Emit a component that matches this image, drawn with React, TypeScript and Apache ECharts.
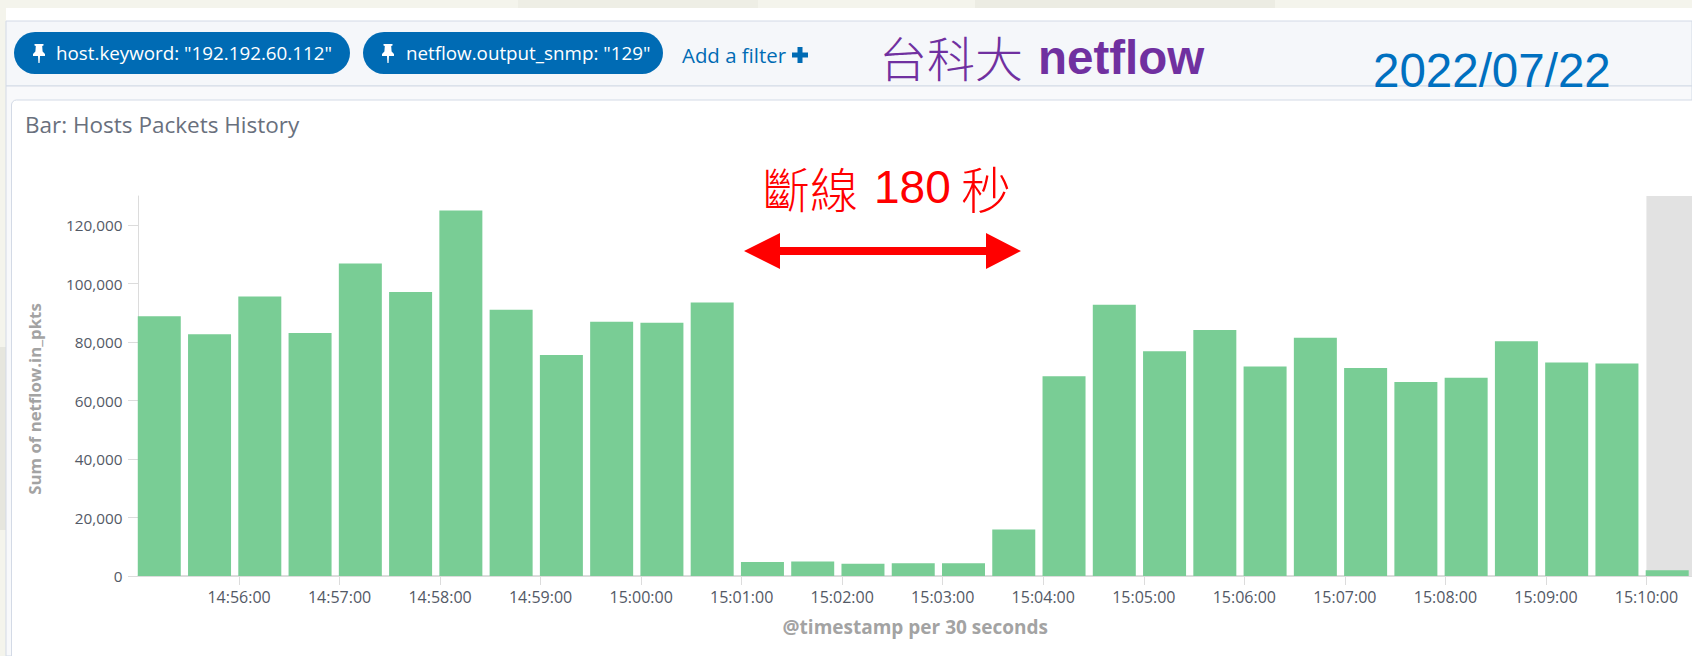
import React, { useEffect, useRef } from "react";
import * as echarts from "echarts";

const binStarts = [
  "14:55:00","14:55:30","14:56:00","14:56:30","14:57:00","14:57:30","14:58:00","14:58:30",
  "14:59:00","14:59:30","15:00:00","15:00:30","15:01:00","15:01:30","15:02:00","15:02:30",
  "15:03:00","15:03:30","15:04:00","15:04:30","15:05:00","15:05:30","15:06:00","15:06:30",
  "15:07:00","15:07:30","15:08:00","15:08:30","15:09:00","15:09:30","15:10:00",
];
const inPkts = [
  88900, 82700, 95600, 83100, 106900, 97200, 125000, 91100,
  75600, 87000, 86600, 93600, 4800, 5000, 4200, 4400,
  4400, 15900, 68300, 92800, 76900, 84200, 71700, 81500,
  71200, 66400, 67800, 80300, 73000, 72700, 2000,
];
const filters = ['host.keyword: "192.192.60.112"', 'netflow.output_snmp: "129"'];
const addFilterLabel = "Add a filter";
const panelTitle = "Bar: Hosts Packets History";
const yAxisTitle = "Sum of netflow.in_pkts";
const xAxisTitle = "@timestamp per 30 seconds";
const headlineCjk = "台科大";
const headlineLatin = "netflow";
const dateLabel = "2022/07/22";
const outageCjkA = "斷線";
const outageSeconds = "180";
const outageCjkB = "秒";

const toMs = (hms: string) => {
  const [h, m, s] = hms.split(":").map(Number);
  return Date.UTC(2022, 6, 22, h, m, s);
};
const two = (n: number) => String(n).padStart(2, "0");
const fmtTime = (v: number) => {
  const d = new Date(v);
  return `${two(d.getUTCHours())}:${two(d.getUTCMinutes())}:${two(d.getUTCSeconds())}`;
};

echarts.graphic.registerShape(
  "pin",
  echarts.graphic.extendPath(
    "M-4.5 -9 L4.5 -9 L4.5 -7.5 L3.2 -7 L3.6 -1.5 L6 1 L6 3 L1 3 L0.6 10 L-0.6 10 L-1 3 L-6 3 L-6 1 L-3.6 -1.5 L-3.2 -7 L-4.5 -7.5 Z",
    {}
  )
);

const OPEN = '"Open Sans", sans-serif';
const ARIAL = '"Liberation Sans", Arial, sans-serif';
const CJK = '"Noto Sans CJK TC", sans-serif';

const txt = (text: string, x: number, y: number, fill: string, font: string, extra: any = {}) => ({
  type: "text",
  x,
  y,
  z: 20,
  silent: true,
  style: { text, fill, font, textAlign: "left", textVerticalAlign: "middle", ...extra },
});
const box = (x: number, y: number, w: number, h: number, fill: string, extra: any = {}) => ({
  type: "rect",
  z: -10,
  silent: true,
  shape: { x, y, width: w, height: h, ...(extra.shape || {}) },
  style: { fill, ...(extra.style || {}) },
});

export default function App() {
  const ref = useRef<HTMLDivElement>(null);
  useEffect(() => {
    const chart = echarts.init(ref.current!, null, { renderer: "svg" });
    const xMin = toMs("14:55:00");
    const xMax = xMin + 927200;
    const offset = 12400;
    chart.setOption({
      animation: false,
      backgroundColor: "#ffffff",
      grid: { left: 138.5, top: 196, right: 0, bottom: 80, containLabel: false },
      xAxis: {
        type: "value",
        min: xMin,
        max: xMax,
        interval: 60000,
        scale: true,
        splitLine: { show: false },
        axisLine: { show: true, lineStyle: { color: "#dcdcdc", width: 2 } },
        axisTick: { show: true, length: 9, lineStyle: { color: "#dcdcdc", width: 1 } },
        axisLabel: {
          showMinLabel: false,
          showMaxLabel: false,
          color: "#535966",
          fontFamily: OPEN,
          fontSize: 16,
          margin: 12.5,
          formatter: (v: number) => fmtTime(v),
        },
        name: xAxisTitle,
        nameLocation: "middle",
        nameGap: 41,
        nameTextStyle: { color: "#a3a3a3", fontFamily: OPEN, fontWeight: "bold", fontSize: 19 },
      },
      yAxis: {
        type: "value",
        min: 0,
        max: 130000,
        interval: 20000,
        splitLine: { show: false },
        axisLine: { show: true, lineStyle: { color: "#dcdcdc", width: 1 } },
        axisTick: { show: true, length: 10.5, lineStyle: { color: "#dcdcdc", width: 1 } },
        axisLabel: {
          showMaxLabel: false,
          color: "#535966",
          fontFamily: OPEN,
          fontSize: 15.3,
          margin: 16,
          padding: [0, 0, 5, 0],
          formatter: (v: number) => v.toLocaleString("en-US"),
        },
        name: yAxisTitle,
        nameLocation: "middle",
        nameGap: 96,
        nameTextStyle: { color: "#a3a3a3", fontFamily: OPEN, fontWeight: "bold", fontSize: 16.8, padding: [0, 26, 0, 0] },
      },
      series: [
        {
          type: "bar",
          barWidth: 43,
          itemStyle: { color: "#79cd95" },
          data: binStarts.map((t, i) => [toMs(t) + offset, inPkts[i]]),
          markArea: {
            silent: true,
            itemStyle: { color: "#e2e2e2" },
            data: [[{ coord: [toMs("15:10:00"), 0] }, { coord: [xMax, 130000] }]],
          },
        },
      ],
      graphic: { elements: [
        box(0, 0, 1692, 656, "#f4f4ec"),
        box(518, 0, 240, 8, "#eeeee5"),
        box(975, 0, 300, 8, "#ecece3"),
        box(0, 347, 6, 183, "#e6e6de"),
        box(6, 8, 1686, 13, "#ffffff"),
        box(6, 21, 1686, 65, "#f5f7fa", { style: { stroke: "#d3dae6", lineWidth: 1 } }),
        box(6, 86, 1686, 570, "#f8f9fb", { style: { stroke: "#d3dae6", lineWidth: 1 } }),
        box(11.5, 100, 1690, 600, "#ffffff", { shape: { r: 5 }, style: { stroke: "#d3dae6", lineWidth: 1 } }),
        { ...box(14, 32, 336, 42, "#006bb4", { shape: { r: 21 } }), z: 5 },
        { ...box(363, 32, 300, 42, "#006bb4", { shape: { r: 21 } }), z: 5 },
        { type: "pin", x: 39, y: 53, z: 20, silent: true, style: { fill: "#ffffff" } },
        { type: "pin", x: 388, y: 53, z: 20, silent: true, style: { fill: "#ffffff" } },
        txt(filters[0], 56, 53, "#ffffff", `18.8px ${OPEN}`),
        txt(filters[1], 406, 53, "#ffffff", `18.8px ${OPEN}`),
        txt(addFilterLabel, 682, 55, "#006bb4", `20.4px ${OPEN}`),
        { type: "polygon", z: 20, silent: true, style: { fill: "#006bb4" }, shape: { points: [
          [797.5,47],[802.5,47],[802.5,52.5],[808,52.5],[808,57.5],[802.5,57.5],[802.5,63],[797.5,63],[797.5,57.5],[792,57.5],[792,52.5],[797.5,52.5],
        ] } },
        txt(headlineCjk, 879, 56, "#7030a0", `300 48px ${CJK}`),
        txt(headlineLatin, 1038, 57, "#7030a0", `bold 47.5px ${ARIAL}`),
        txt(dateLabel, 1373, 70, "#0070c0", `47.5px ${ARIAL}`),
        txt(panelTitle, 25, 124, "#69707d", `22.5px ${OPEN}`),
        txt(outageCjkA, 762, 187, "#ff0000", `300 48px ${CJK}`),
        txt(outageSeconds, 874, 187, "#ff0000", `46px ${ARIAL}`),
        txt(outageCjkB, 961, 187, "#ff0000", `300 50px ${CJK}`),
        { type: "polygon", z: 20, silent: true, style: { fill: "#ff0000" }, shape: { points: [
          [744,251],[780,233],[780,247],[986,247],[986,233],[1021,251],[986,269],[986,255],[780,255],[780,269],
        ] } },
      ] },
    });
    return () => chart.dispose();
  }, []);
  return <div ref={ref} style={{ position: "absolute", left: 0, top: 0, width: 1692, height: 656 }} />;
}
